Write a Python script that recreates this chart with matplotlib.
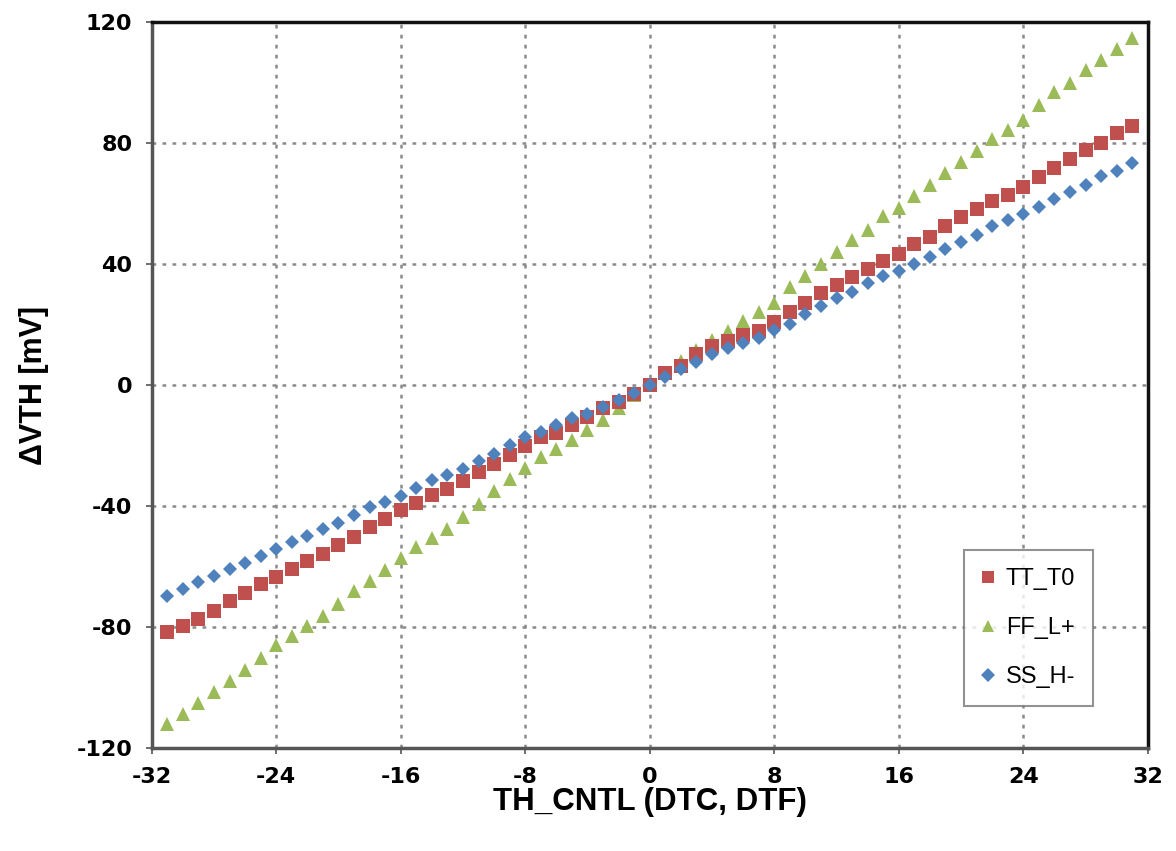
import numpy as np
import matplotlib
matplotlib.use("Agg")
import matplotlib.pyplot as plt

# TH_CNTL code (-31 .. 31)
th_cntl = list(range(-31, 32))

tt_t0 = [-81.8, -79.6, -77.2, -74.6, -71.5, -68.9, -65.9, -63.4, -60.8, -58.2,
         -56.0, -52.8, -50.2, -46.9, -44.4, -41.3, -39.0, -36.4, -34.2, -31.8,
         -28.7, -26.2, -23.2, -20.2, -17.1, -16.0, -13.3, -10.5, -7.7, -5.5,
         -2.8, 0.0, 3.9, 6.3, 10.2, 12.9, 14.6, 16.5, 17.9, 20.7,
         24.0, 27.1, 30.3, 33.0, 35.6, 38.3, 41.1, 43.2, 46.5, 49.1,
         52.5, 55.6, 58.2, 60.7, 63.0, 65.4, 68.7, 71.8, 74.8, 77.6,
         80.1, 83.4, 85.8]

ff_lp = [-112.0, -108.7, -105.0, -101.4, -97.8, -94.1, -90.3, -85.9, -82.9, -79.8,
         -76.5, -72.3, -68.2, -64.9, -61.2, -57.1, -53.6, -50.5, -47.5, -43.6,
         -39.4, -35.0, -31.1, -27.3, -23.7, -21.2, -18.0, -14.7, -11.4, -7.7,
         -3.3, 0.0, 4.1, 8.0, 11.5, 14.8, 17.9, 21.2, 24.0, 27.3,
         32.3, 36.1, 40.0, 44.1, 48.1, 51.4, 55.8, 58.5, 62.6, 66.3,
         70.2, 73.9, 77.3, 81.2, 84.4, 87.8, 92.7, 96.9, 100.0, 104.1,
         107.4, 111.0, 114.8]

ss_hm = [-69.8, -67.4, -65.2, -63.2, -60.8, -58.8, -56.6, -54.1, -51.9, -49.9,
         -47.7, -45.5, -42.8, -40.2, -38.6, -36.6, -34.0, -31.5, -29.8, -27.6,
         -25.1, -22.9, -19.9, -17.1, -15.5, -13.3, -11.0, -9.4, -7.4, -5.0,
         -2.5, 0.0, 2.8, 5.2, 7.6, 10.2, 12.4, 14.0, 15.7, 18.2,
         20.3, 23.4, 26.2, 28.7, 30.9, 33.6, 36.1, 37.7, 40.0, 42.5,
         45.0, 47.4, 49.6, 52.5, 54.7, 56.6, 59.0, 61.6, 63.8, 66.3,
         69.0, 70.9, 73.5]

x_ticks = [-32, -24, -16, -8, 0, 8, 16, 24, 32]
y_ticks = [-120, -80, -40, 0, 40, 80, 120]

plt.rcParams['font.family'] = ['Liberation Sans', 'DejaVu Sans']
plt.rcParams['axes.unicode_minus'] = False

fig = plt.figure(figsize=(11.76, 8.51), dpi=100)
ax = fig.add_axes([0.129, 0.121, 0.847, 0.853])

# green drawn first so red and blue sit on top near zero
h_ff, = ax.plot(th_cntl, ff_lp, '^', color='#9BBB59', markersize=10,
                markeredgewidth=0, zorder=3, label='FF_L+')
h_tt, = ax.plot(th_cntl, tt_t0, 's', color='#C0504D', markersize=9.5,
                markeredgewidth=0, zorder=4, label='TT_T0')
h_ss, = ax.plot(th_cntl, ss_hm, 'D', color='#4F81BD', markersize=7.5,
                markeredgewidth=0, zorder=5, label='SS_H-')

ax.set_xlim(-32, 32)
ax.set_ylim(-120, 120)
ax.set_xticks(x_ticks)
ax.set_yticks(y_ticks)
ax.grid(True, color='#8a8a8a', linestyle=(0, (1.5, 2.5)), linewidth=1.8)
ax.set_axisbelow(True)

for s in ax.spines.values():
    s.set_color('#555555')
    s.set_linewidth(2.5)
ax.spines['top'].set_color('#111111')
ax.spines['right'].set_color('#111111')

ax.tick_params(axis='both', direction='out', length=4, width=1.2,
               color='#555555', pad=10)
for lab in ax.get_xticklabels() + ax.get_yticklabels():
    lab.set_fontfamily('DejaVu Sans')
    lab.set_fontweight('bold')
    lab.set_fontsize(16)

ax.set_xlabel('TH_CNTL (DTC, DTF)', fontsize=22.5, fontweight='bold', labelpad=0)
ax.set_ylabel('ΔVTH [mV]', fontsize=22, fontweight='bold', labelpad=20)

leg = ax.legend(handles=[h_tt, h_ff, h_ss], loc='lower right',
                bbox_to_anchor=(0.9448, 0.058), borderaxespad=0,
                fontsize=17, frameon=True, fancybox=False,
                handlelength=0.5, handletextpad=0.5,
                labelspacing=1.15, borderpad=0.75, markerscale=0.9)
leg.get_frame().set_edgecolor('#777777')
leg.get_frame().set_linewidth(1.5)

fig.savefig('out.png', dpi=100)
